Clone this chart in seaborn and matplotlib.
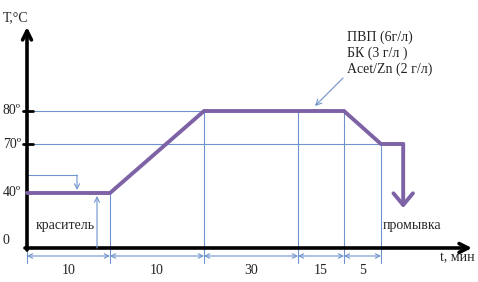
import numpy as np
import pandas as pd
import matplotlib
matplotlib.use("Agg")
import matplotlib.pyplot as plt
import seaborn as sns

# --- data: dyeing temperature profile (schematic) ---
stage_minutes = [10, 10, 30, 15, 5]
stage_bounds = [0, 10, 20, 50, 65, 70]          # cumulative time, min
profile_t = [0, 10, 20, 65, 70, 73]
profile_T = [40, 40, 80, 80, 70, 70]
temp_levels = [0, 40, 70, 80]
temp_labels = ["0", "40º", "70º", "80º"]
chem_lines = ["ПВП (6г/л)", "БК (3 г/л )", "Acet/Zn (2 г/л)"]

W, H = 478, 282
PURPLE = "#7D62A6"
BLUE = "#6F93CC"

# schematic (non-uniform) axes of the drawing
tx_knots = [-40, 0, 10, 20, 50, 65, 70, 150]
tx_px = [27 - 332, 27, 110, 204, 298, 344, 381, 381 + 80 * 7.4]
ty_knots = [-60, 0, 40, 70, 80, 200]
ty_px = [-48.5, 34, 89, 138, 171, 567]

fwd_x = lambda v: np.interp(v, tx_knots, tx_px)
inv_x = lambda p: np.interp(p, tx_px, tx_knots)
fwd_y = lambda v: np.interp(v, ty_knots, ty_px)
inv_y = lambda p: np.interp(p, ty_px, ty_knots)

sns.set_theme(style="white")
plt.rcParams["font.family"] = ["Liberation Serif", "DejaVu Serif"]

fig = plt.figure(figsize=(W / 100, H / 100), dpi=100)
ax = fig.add_axes([0, 0, 1, 1])
ax.set_xscale("function", functions=(fwd_x, inv_x))
ax.set_yscale("function", functions=(fwd_y, inv_y))
ax.set_xlim(inv_x(0), inv_x(W))
ax.set_ylim(inv_y(0), inv_y(H))
ax.axis("off")

# helper: pixel (from top-left) -> axes fraction
def px(x, y):
    return (x / W, 1 - y / H)

y_dim = inv_y(H - 256)     # dimension line level
y_low = inv_y(H - 263)     # bottom of extension lines

# thin guide lines
ax.plot([0, 65], [80, 80], color=BLUE, lw=0.8, zorder=1)
ax.plot([0, 73], [70, 70], color=BLUE, lw=0.8, zorder=1)
for t, T in zip(stage_bounds[1:], [40, 80, 80, 80, 70]):
    ax.plot([t, t], [T, y_low], color=BLUE, lw=0.8, zorder=1)
ax.plot([0, 0], [inv_y(H - 251), y_low], color=BLUE, lw=0.8, zorder=1)

# dimension arrows
for a, b, m in zip(stage_bounds[:-1], stage_bounds[1:], stage_minutes):
    ax.annotate("", xy=(b, y_dim), xytext=(a, y_dim),
                arrowprops=dict(arrowstyle="<->", color=BLUE, lw=0.8,
                                mutation_scale=8, shrinkA=0, shrinkB=0))
    ax.text((a + b) / 2, inv_y(H - 271), str(m), ha="center", va="center",
            fontsize=10, color="#222222")

# axes arrows
ax.annotate("", xy=(0, inv_y(H - 27)), xytext=(0, inv_y(H - 250)),
            arrowprops=dict(arrowstyle="->", color="black", lw=2.6,
                            mutation_scale=16, shrinkA=0, shrinkB=0))
ax.annotate("", xy=(inv_x(472), 0), xytext=(inv_x(25), 0),
            arrowprops=dict(arrowstyle="->", color="black", lw=2.6,
                            mutation_scale=16, shrinkA=0, shrinkB=0))
for T in [70, 80]:
    ax.plot([inv_x(23), inv_x(33)], [T, T], color="black", lw=2, zorder=3)

# temperature profile
prof = pd.DataFrame({"t": profile_t, "T": profile_T})
sns.lineplot(data=prof, x="t", y="T", ax=ax, color=PURPLE, lw=2.8,
             sort=False, zorder=4, solid_joinstyle="miter")
ax.annotate("", xy=(profile_t[-1], inv_y(H - 208)), xytext=(profile_t[-1], 70),
            arrowprops=dict(arrowstyle="->,head_width=0.5,head_length=0.6",
                            color=PURPLE, lw=2.8, mutation_scale=14,
                            shrinkA=0, shrinkB=0), zorder=4)

# small arrows at 40º
ax.plot([0, inv_x(77)], [inv_y(H - 175)] * 2, color=BLUE, lw=0.8)
ax.annotate("", xy=(inv_x(77), inv_y(H - 190)), xytext=(inv_x(77), inv_y(H - 175)),
            arrowprops=dict(arrowstyle="->", color=BLUE, lw=0.8,
                            mutation_scale=9, shrinkA=0, shrinkB=0))
ax.annotate("", xy=(inv_x(97), inv_y(H - 196)), xytext=(inv_x(97), 0),
            arrowprops=dict(arrowstyle="->", color=BLUE, lw=0.8,
                            mutation_scale=9, shrinkA=0, shrinkB=0))

# pointer to plateau
ax.annotate("", xy=(inv_x(315), inv_y(H - 106)), xytext=(inv_x(343), inv_y(H - 78)),
            arrowprops=dict(arrowstyle="->", color=BLUE, lw=0.8,
                            mutation_scale=10, shrinkA=0, shrinkB=0))

# texts
fs = 10
for T, lab in zip(temp_levels, temp_labels):
    yy = T if T > 0 else inv_y(H - 240)
    ax.text(inv_x(3), yy, lab, ha="left", va="center", fontsize=fs, color="#222222")
ax.text(*px(3, 18), "T,°C", transform=ax.transAxes, ha="left", va="center", fontsize=fs)
ax.text(*px(65, 226), "краситель", transform=ax.transAxes, ha="center", va="center", fontsize=fs)
ax.text(*px(383, 226), "промывка", transform=ax.transAxes, ha="left", va="center", fontsize=fs)
ax.text(*px(440, 258), "t, мин", transform=ax.transAxes, ha="left", va="center", fontsize=fs)
for i, line in enumerate(chem_lines):
    ax.text(*px(347, 37 + 16 * i), line, transform=ax.transAxes,
            ha="left", va="center", fontsize=fs, color="#222222")

fig.savefig("out.png", dpi=100)
